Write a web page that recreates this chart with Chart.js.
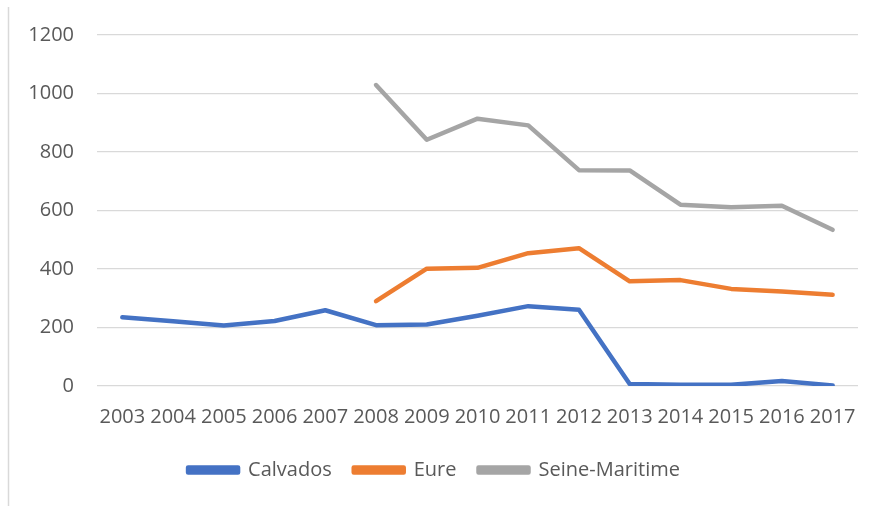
<!DOCTYPE html>
<html>
<head>
<meta charset="utf-8">
<script src="https://cdn.jsdelivr.net/npm/chart.js@4.4.1/dist/chart.umd.min.js"></script>
<style>
  html, body { margin: 0; padding: 0; background: #fff; }
  #wrap { width: 876px; height: 506px; }
</style>
</head>
<body>
<div id="wrap"><canvas id="line" width="876" height="506"></canvas></div>
<script>
'use strict';

// données
var years = ["2003", "2004", "2005", "2006", "2007", "2008", "2009", "2010", "2011", "2012", "2013", "2014", "2015", "2016", "2017"];
var calvados = [235, 221, 207, 222, 259, 208, 210, 240, 273, 261, 7, 4, 4, 17, 2];
var eure = [null, null, null, null, null, 290, 401, 404, 454, 471, 358, 362, 332, 323, 312];
var seineMaritime = [null, null, null, null, null, 1029, 842, 914, 891, 738, 737, 620, 611, 616, 534];
var yTicks = [0, 200, 400, 600, 800, 1000, 1200];

var textColor = '#595959';
var gridColor = '#d9d9d9';
var fontFamily = "'Open Sans', 'Liberation Sans', sans-serif";

// trait gris à gauche (bord du cadre)
var framePlugin = {
    id: 'frame',
    beforeDraw: function(chart) {
        var ctx = chart.ctx;
        ctx.save();
        ctx.strokeStyle = gridColor;
        ctx.lineWidth = 1.5;
        ctx.beginPath();
        ctx.moveTo(8.5, 7);
        ctx.lineTo(8.5, 506);
        ctx.stroke();
        ctx.restore();
    }
};

function serie(label, data, color) {
    return {
        label: label,
        data: data,
        borderColor: color,
        backgroundColor: color,
        borderWidth: 4.5,
        borderCapStyle: 'round',
        borderJoinStyle: 'round',
        pointRadius: 0,
        pointHoverRadius: 0,
        tension: 0,
        spanGaps: false
    };
}

var ctx = document.getElementById("line").getContext('2d');
var chart = new Chart(ctx, {
    type: 'line',
    data: {
        labels: years,
        datasets: [
            serie("Calvados", calvados, "#4472C4"),
            serie("Eure", eure, "#ED7D31"),
            serie("Seine-Maritime", seineMaritime, "#A5A5A5")
        ]
    },
    options: {
        responsive: false,
        animation: false,
        layout: {
            padding: { left: 10, right: 18, top: 34, bottom: 16 }
        },
        plugins: {
            legend: {
                position: 'bottom',
                labels: {
                    boxWidth: 50,
                    boxHeight: 5,
                    padding: 22,
                    color: textColor,
                    font: { family: fontFamily, size: 20 }
                }
            },
            tooltip: { enabled: false }
        },
        scales: {
            x: {
                offset: true,
                grid: { display: false, drawTicks: false },
                border: { display: false },
                ticks: {
                    autoSkip: false,
                    maxRotation: 0,
                    padding: 19,
                    color: textColor,
                    font: { family: fontFamily, size: 20 }
                },
                afterFit: function(scale) { scale.height = 52; }
            },
            y: {
                min: 0,
                max: 1200,
                afterBuildTicks: function(scale) {
                    scale.ticks = yTicks.map(function(v) { return { value: v }; });
                },
                grid: { color: gridColor, lineWidth: 1.3, drawTicks: false },
                border: { display: false },
                ticks: {
                    padding: 23,
                    color: textColor,
                    font: { family: fontFamily, size: 20 },
                    callback: function(value) { return String(value); }
                },
                afterFit: function(scale) { scale.width = 87; }
            }
        }
    },
    plugins: [framePlugin]
});
</script>
</body>
</html>
